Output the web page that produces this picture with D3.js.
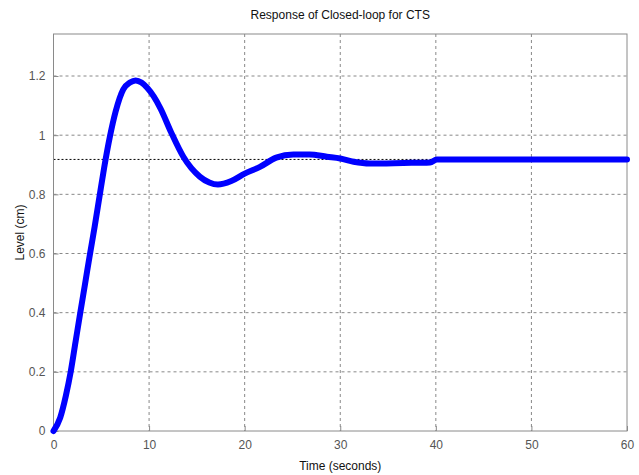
<!DOCTYPE html>
<html>
<head>
<meta charset="utf-8">
<script src="https://cdn.jsdelivr.net/npm/d3@7"></script>
<style>
  body { margin: 0; background: #fff; }
  text { font-family: "Liberation Sans Narrow", "Liberation Sans", Arial, sans-serif; }
</style>
</head>
<body>
<script>
// response of the closed loop
const timeS = [0, 0.7, 1.3, 1.8, 2.3, 2.8, 3.3, 3.8, 4.3, 4.8, 5.3, 5.9, 6.5, 7.3, 8.0, 8.6, 9.2, 9.8, 10.5, 11.2, 12.3, 13.6, 15.3, 16.3, 17.2, 18.6, 20, 21.6, 23.3, 25.1, 26.8, 28.6, 30, 31.4, 33.1, 36.6, 39.4, 40.1, 45, 50, 55, 60];
const level = [0, 0.045, 0.12, 0.2, 0.3, 0.4, 0.497, 0.595, 0.69, 0.79, 0.89, 0.995, 1.08, 1.155, 1.178, 1.185, 1.178, 1.16, 1.13, 1.09, 1.01, 0.926, 0.86, 0.84, 0.833, 0.845, 0.87, 0.893, 0.924, 0.935, 0.935, 0.927, 0.921, 0.91, 0.904, 0.906, 0.908, 0.918, 0.918, 0.918, 0.918, 0.918];
const steadyLevel = 0.918;
const xTicks = [0, 10, 20, 30, 40, 50, 60];
const yTicks = [0, 0.2, 0.4, 0.6, 0.8, 1, 1.2];

const W = 639, H = 475;
const m = {left: 53.5, right: 12, top: 34, bottom: 44};
const iw = W - m.left - m.right, ih = H - m.top - m.bottom;

const svg = d3.select("body").append("svg")
    .attr("width", W).attr("height", H);

const x = d3.scaleLinear().domain([0, 60]).range([0, iw]);
const y = d3.scaleLinear().domain([0, 1.342]).range([ih, 0]);

const g = svg.append("g").attr("transform", `translate(${m.left},${m.top})`);

// grid
g.selectAll(".vg").data(xTicks.slice(1, -1)).join("line")
    .attr("x1", d => x(d)).attr("x2", d => x(d))
    .attr("y1", 0).attr("y2", ih)
    .attr("stroke", "#888").attr("stroke-dasharray", "3,3");
g.selectAll(".hg").data(yTicks.slice(1)).join("line")
    .attr("x1", 0).attr("x2", iw)
    .attr("y1", d => y(d)).attr("y2", d => y(d))
    .attr("stroke", "#888").attr("stroke-dasharray", "3,3");

// steady state reference line
g.append("line")
    .attr("x1", 0).attr("x2", iw)
    .attr("y1", y(steadyLevel)).attr("y2", y(steadyLevel))
    .attr("stroke", "#000").attr("stroke-dasharray", "2,2");

// box
g.append("rect").attr("width", iw).attr("height", ih)
    .attr("fill", "none").attr("stroke", "#8a8a8a");

// axes, ticks pointing inward
const xAxis = g.append("g").attr("transform", `translate(0,${ih})`)
    .call(d3.axisBottom(x).tickValues(xTicks).tickSize(-5).tickPadding(9).tickFormat(d3.format("d")));
const yAxis = g.append("g")
    .call(d3.axisLeft(y).tickValues(yTicks).tickSize(-5).tickPadding(8).tickFormat(d => d));
[xAxis, yAxis].forEach(a => {
  a.select(".domain").remove();
  a.selectAll(".tick line").attr("stroke", "#8a8a8a");
  a.selectAll(".tick text").attr("fill", "#555").style("font-size", "12px")
    .style("font-family", '"Liberation Sans Narrow", "Liberation Sans", Arial, sans-serif');
});

// curve
const pts = timeS.map((t, i) => [t, level[i]]);
g.append("path").datum(pts)
    .attr("fill", "none").attr("stroke", "#0000ff")
    .attr("stroke-width", 6).attr("stroke-linejoin", "round").attr("stroke-linecap", "round")
    .attr("d", d3.line().x(d => x(d[0])).y(d => y(d[1])).curve(d3.curveMonotoneX));

// labels
svg.append("text").attr("x", m.left + iw / 2).attr("y", 19)
    .attr("text-anchor", "middle").style("font-size", "12px").attr("fill", "#111")
    .text("Response of Closed-loop for CTS");
svg.append("text").attr("x", m.left + iw / 2).attr("y", 470)
    .attr("text-anchor", "middle").style("font-size", "12px").attr("fill", "#111")
    .text("Time (seconds)");
svg.append("text").attr("transform", `translate(24,${m.top + ih / 2}) rotate(-90)`)
    .attr("text-anchor", "middle").style("font-size", "12px").attr("fill", "#111")
    .text("Level (cm)");
</script>
</body>
</html>
